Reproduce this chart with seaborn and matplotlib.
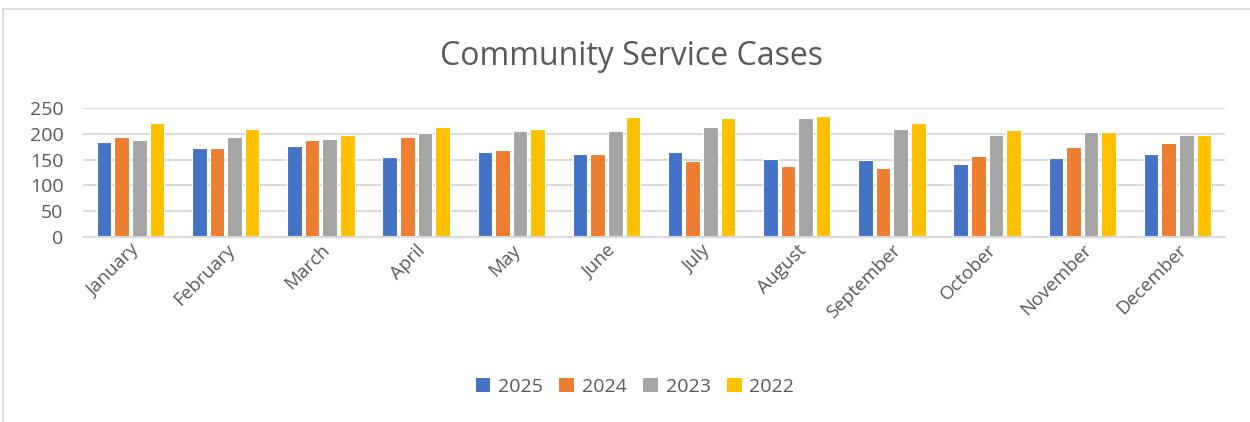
import matplotlib
matplotlib.use("Agg")
import matplotlib.pyplot as plt
import seaborn as sns
import pandas as pd
from matplotlib.patches import Rectangle, Patch

months = ["January", "February", "March", "April", "May", "June", "July",
          "August", "September", "October", "November", "December"]
years = ["2025", "2024", "2023", "2022"]
v2025 = [184, 172, 177, 155, 165, 160, 164, 151, 149, 141, 154, 160]
v2024 = [194, 172, 188, 194, 169, 160, 147, 138, 134, 156, 175, 182]
v2023 = [188, 194, 190, 201, 206, 206, 214, 230, 210, 197, 204, 197]
v2022 = [221, 209, 198, 214, 209, 232, 230, 235, 221, 208, 204, 197]
colors = ["#4472C4", "#ED7D31", "#A5A5A5", "#FFC000"]

series = {"2025": v2025, "2024": v2024, "2023": v2023, "2022": v2022}
rows = []
for y in years:
    for m, v in zip(months, series[y]):
        rows.append({"Month": m, "Year": y, "Cases": v})
df = pd.DataFrame(rows)

sns.set_theme(style="white")
plt.rcParams['font.family'] = ['Open Sans', 'DejaVu Sans']

fig = plt.figure(figsize=(12.5, 4.22), dpi=100)
ax = fig.add_axes([0.0664, 0.4384, 0.9136, 0.3057])

sns.barplot(data=df, x="Month", y="Cases", hue="Year", order=months,
            hue_order=years, palette=colors, width=0.74, gap=0.17,
            edgecolor="white", linewidth=0.8, saturation=1, ax=ax,
            legend=False, errorbar=None)

ax.set_ylim(0, 250)
ax.set_xlim(-0.5, 11.5)
ax.set_yticks([0, 50, 100, 150, 200, 250])
ax.yaxis.grid(True, color="#D9D9D9", linewidth=1.5)
ax.set_axisbelow(True)
for s in ["top", "right", "left"]:
    ax.spines[s].set_visible(False)
ax.spines["bottom"].set_color("#D9D9D9")
ax.spines["bottom"].set_linewidth(1.5)
ax.set_xlabel("")
ax.set_ylabel("")
ax.tick_params(axis="y", length=0, pad=14, labelsize=14, labelcolor="#595959")
ax.tick_params(axis="x", length=0, pad=3, labelsize=13.5, labelcolor="#595959")
for lbl in ax.get_xticklabels():
    lbl.set_rotation(45)
    lbl.set_ha("right")
    lbl.set_va("top")
    lbl.set_rotation_mode("anchor")

fig.text(0.5055, 0.866, "Community Service Cases", ha="center", va="center",
         fontsize=23, color="#595959")

handles = [Patch(facecolor=c, edgecolor="none") for c in colors]
fig.legend(handles, years, loc="center", bbox_to_anchor=(0.508, 0.083),
           ncol=4, frameon=False, fontsize=14, handlelength=0.75,
           handleheight=0.75, handletextpad=0.4, columnspacing=0.85,
           labelcolor="#595959")

fig.patches.append(Rectangle((3 / 1250, -0.05), 1.1, 1 - 9 / 422 + 0.05,
                             transform=fig.transFigure, fill=False,
                             edgecolor="#D9D9D9", linewidth=1.2))

fig.savefig("out.png", dpi=100, facecolor="white")
